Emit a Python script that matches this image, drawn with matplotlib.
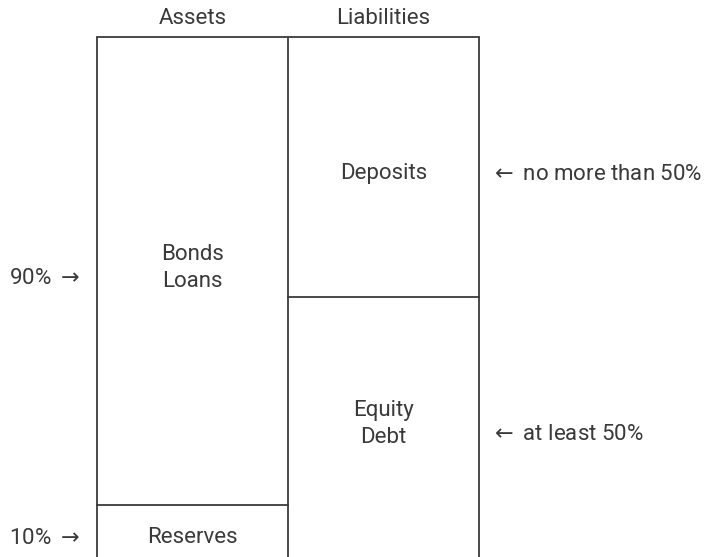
import numpy as np
import matplotlib
matplotlib.use('Agg')
from matplotlib import pyplot as plt

# balance sheet pieces, bottom to top, in percent of the total
columns = ["Assets", "Liabilities"]
asset_items = ["Reserves", "Bonds\nLoans"]
asset_shares = [10, 90]
liability_items = ["Equity\nDebt", "Deposits"]
liability_shares = [50, 50]

left_notes = ["10% $\\rightarrow$", "90% $\\rightarrow$"]
right_notes = ["$\\leftarrow$ at least 50%", "$\\leftarrow$ no more than 50%"]

plt.rcParams['font.family'] = ['Roboto', 'DejaVu Sans']
plt.rcParams['mathtext.fontset'] = 'dejavusans'
txt_color = "#3a3a3a"
line_color = "#3a3a3a"
fs = 16

fig = plt.figure(figsize=(7.16, 5.57), dpi=100)
ax = fig.add_axes([97 / 716, 0, 382 / 716, 520 / 557])
ax.set_xlim(0, len(columns))
ax.set_ylim(0, 100)
ax.axis('off')

stacks = [(asset_items, asset_shares), (liability_items, liability_shares)]

# outer frame, open at the bottom
for x in range(len(columns) + 1):
    ax.plot([x, x], [0, 100], color=line_color, lw=1.3, solid_capstyle='butt', clip_on=False)
ax.plot([0, len(columns)], [100, 100], color=line_color, lw=1.3, solid_capstyle='projecting', clip_on=False)

for col, (items, shares) in enumerate(stacks):
    ax.text(col + 0.5, 104, columns[col], ha='center', va='center_baseline',
            fontsize=fs, color=txt_color)
    tops = np.cumsum(shares)
    bottoms = tops - np.array(shares)
    for i, (name, lo, hi) in enumerate(zip(items, bottoms, tops)):
        if hi < 100:
            ax.plot([col, col + 1], [hi, hi], color=line_color, lw=1.3, clip_on=False)
        mid = (lo + hi) / 2
        if "\n" in name:
            ax.text(col + 0.5, mid + 0.6, name, ha='center', va='center',
                    fontsize=fs, color=txt_color, linespacing=1.4)
        else:
            ax.text(col + 0.5, mid - 0.8, name, ha='center', va='center_baseline',
                    fontsize=fs, color=txt_color)

# side notes
a_tops = np.cumsum(asset_shares)
a_mid = a_tops - np.array(asset_shares) / 2
for note, y in zip(left_notes, a_mid):
    ax.text(-0.09, y - 1, note, ha='right', va='center_baseline', fontsize=fs, color=txt_color)

l_tops = np.cumsum(liability_shares)
l_mid = l_tops - np.array(liability_shares) / 2
for note, y in zip(right_notes, l_mid):
    ax.text(2.06, y - 1, note, ha='left', va='center_baseline', fontsize=fs, color=txt_color)

plt.savefig("out.png", dpi=100)
